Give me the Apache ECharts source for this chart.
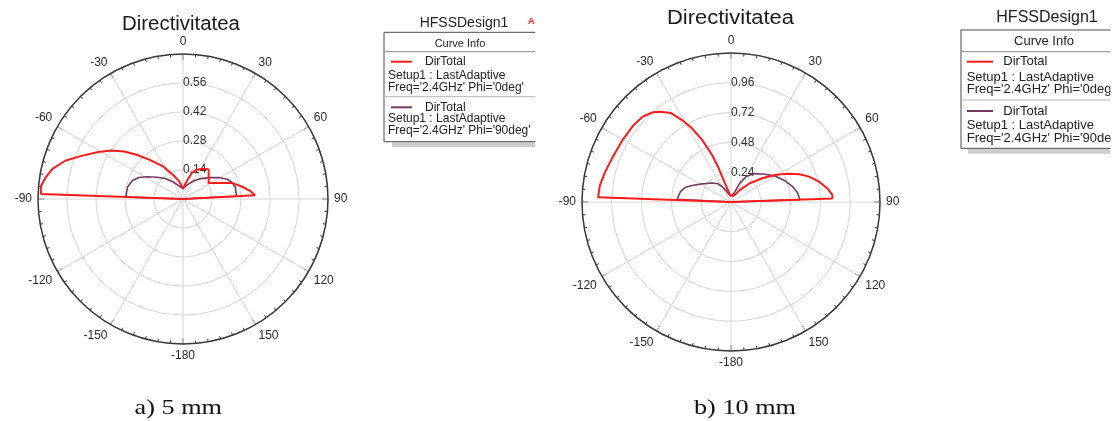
<!DOCTYPE html>
<html><head><meta charset="utf-8">
<script src="https://cdn.jsdelivr.net/npm/echarts@6/dist/echarts.min.js"></script>
<style>html,body{margin:0;padding:0;background:#fff}#c{width:1118px;height:421px}</style>
</head><body><div id="c"></div>
<script>
// ---------- text ----------
const titles = ['Directivitatea', 'Directivitatea'];
const captions = ['a) 5 mm', 'b) 10 mm'];
const designName = 'HFSSDesign1';
const curveInfoHeader = 'Curve Info';
const curveNames = ['DirTotal', 'DirTotal'];
const setupText = 'Setup1 : LastAdaptive';
const freqTexts = ["Freq='2.4GHz' Phi='0deg'", "Freq='2.4GHz' Phi='90deg'"];

// ---------- axes ----------
const radiusMax = [0.7, 1.2];
const radiusStep = [0.14, 0.24];
const angleStep = 30;

// ---------- data: angle (deg, 0 = top, clockwise) / DirTotal ----------
// 5 mm, Phi = 0deg
const phi0_5mm_angles = [-90, -88, -85, -81, -77, -72, -67, -61, -56, -51, -46, -40, -31, -22, -13, -7, 0, 11, 18, 24, 31, 37, 41, 58, 72, 75, 78, 83, 87, 90];
const phi0_5mm_values = [0, 0.686, 0.689, 0.671, 0.647, 0.598, 0.533, 0.468, 0.418, 0.365, 0.306, 0.245, 0.182, 0.124, 0.09, 0.066, 0.05, 0.084, 0.13, 0.153, 0.169, 0.182, 0.189, 0.146, 0.249, 0.268, 0.29, 0.326, 0.348, 0];
// 5 mm, Phi = 90deg
const phi90_5mm_angles = [-90, -88, -78, -70, -64, -58, -50, -41, -30, -14, 0, 14, 29, 39, 51, 59, 66, 71, 77, 87, 90];
const phi90_5mm_values = [0, 0.276, 0.274, 0.26, 0.237, 0.203, 0.163, 0.131, 0.095, 0.063, 0.05, 0.068, 0.098, 0.125, 0.164, 0.202, 0.234, 0.25, 0.259, 0.258, 0];
// 10 mm, Phi = 0deg
const phi0_10mm_angles = [-90, -88, -83, -77, -69, -60, -52, -46, -41, -38, -34, -31, -28, -25, -22, -20, -18, -5, 0, 12, 22, 31, 36, 45, 53, 59, 63, 68, 72, 77, 82, 86, 88, 90];
const phi0_10mm_values = [0, 1.071, 1.065, 1.044, 1.019, 1.006, 1.0, 0.989, 0.958, 0.922, 0.864, 0.772, 0.675, 0.554, 0.411, 0.291, 0.16, 0.05, 0.043, 0.045, 0.055, 0.074, 0.121, 0.214, 0.321, 0.425, 0.499, 0.595, 0.662, 0.728, 0.784, 0.818, 0.816, 0];
// 10 mm, Phi = 90deg
const phi90_10mm_angles = [-90, -87, -78, -72, -67, -58, -45, -35, -30, -22, -10, 0, 10, 21, 25, 31, 38, 49, 59, 68, 76, 82, 88, 90];
const phi90_10mm_values = [0, 0.434, 0.415, 0.385, 0.341, 0.275, 0.216, 0.179, 0.143, 0.092, 0.055, 0.043, 0.055, 0.089, 0.168, 0.24, 0.287, 0.343, 0.409, 0.464, 0.512, 0.541, 0.555, 0];

// ---------- build ----------
const RED = '#ff1a1a', PURPLE = '#733a62';
const SANS = '"Liberation Sans", Arial, sans-serif';
const SERIF = '"Liberation Serif", "Times New Roman", serif';

function toPolar(angles, values) {
  return angles.map((a, i) => [values[i], a < 0 ? a + 360 : a]);
}
function fmtAngle(v) {
  let a = v > 180 ? v - 360 : v;
  if (a === 180) a = -180;
  return String(Math.round(a));
}
const polarLayout = [
  { center: [183, 199], radius: 145 },
  { center: [731, 202], radius: 149 }
];
const angleAxis = [0, 1].map(i => ({
  polarIndex: i, type: 'value', min: 0, max: 360, interval: angleStep,
  startAngle: 90, clockwise: true,
  axisLine: { show: true, lineStyle: { color: '#3a3a3a', width: 1.5 } },
  axisTick: { show: true, inside: true, length: 6, lineStyle: { color: '#3a3a3a', width: 1 } },
  minorTick: { show: true, splitNumber: 6, length: 3, lineStyle: { color: '#3a3a3a', width: 1 } },
  axisLabel: { show: true, margin: 6, color: '#2a2a2a', fontSize: 12, fontFamily: SANS, formatter: fmtAngle },
  splitLine: { show: true, lineStyle: { color: '#d6d6d6', width: 1 } }
}));
const radiusAxis = [0, 1].map(i => ({
  polarIndex: i, type: 'value', min: 0, max: radiusMax[i], interval: radiusStep[i],
  axisLine: { show: false }, axisTick: { show: false },
  axisLabel: {
    show: true, margin: 0, align: 'left', verticalAlign: 'middle',
    color: '#333', fontSize: 12, fontFamily: SANS,
    showMinLabel: false, showMaxLabel: false, padding: [0, 0, 5, 0],
    formatter: v => v.toFixed(2)
  },
  splitLine: { show: true, lineStyle: { color: '#d6d6d6', width: 1 } }
}));

function lineSeries(polarIndex, data, color, width) {
  return {
    type: 'line', coordinateSystem: 'polar', polarIndex, data,
    showSymbol: false, symbol: 'none', smooth: false, animation: false,
    lineStyle: { color, width }, z: 3
  };
}
const series = [
  lineSeries(0, toPolar(phi90_5mm_angles, phi90_5mm_values), PURPLE, 1.6),
  lineSeries(0, toPolar(phi0_5mm_angles, phi0_5mm_values), RED, 2),
  lineSeries(1, toPolar(phi90_10mm_angles, phi90_10mm_values), PURPLE, 1.6),
  lineSeries(1, toPolar(phi0_10mm_angles, phi0_10mm_values), RED, 2)
];

// ---------- graphics (titles, captions, legend boxes) ----------
function txt(x, y, text, size, opts) {
  opts = opts || {};
  return {
    type: 'text', x, y, scaleX: opts.scaleX || 1,
    style: {
      text, fill: opts.fill || '#222', fontSize: size, fontFamily: opts.family || SANS,
      fontWeight: opts.weight || 'normal',
      align: opts.align || 'left', verticalAlign: 'middle'
    }, z: 10
  };
}
function hline(x1, x2, y, color, width) {
  return { type: 'line', shape: { x1, y1: y, x2, y2: y }, style: { stroke: color, lineWidth: width }, z: 10 };
}
function legend(L) {
  const g = [];
  g.push({ type: 'rect', shape: { x: L.sx, y: L.bottom + 0.5, width: L.right - L.sx, height: 5 }, style: { fill: '#cdcdcd' }, z: 8 });
  g.push({ type: 'rect', shape: { x: L.left, y: L.top, width: L.right - L.left, height: L.bottom - L.top }, style: { fill: '#fff' }, z: 9 });
  g.push({ type: 'polyline', shape: { points: [[L.right, L.top], [L.left, L.top], [L.left, L.bottom], [L.right, L.bottom]] }, style: { stroke: '#4a4a4a', lineWidth: 1, fill: null }, z: 10 });
  g.push(txt(L.titleX, L.titleY, designName, L.titleSize, { align: 'center' }));
  g.push(txt(L.headX, L.headY, curveInfoHeader, L.headSize, { align: 'center' }));
  g.push(hline(L.left, L.right, L.sep1, '#8a8a8a', 1));
  g.push(hline(L.left, L.right, L.sep2, '#b5b5b5', 1));
  const colors = [RED, PURPLE];
  for (let k = 0; k < 2; k++) {
    const r = L.rows[k];
    g.push(hline(L.lx1, L.lx2, r[0], colors[k], 2));
    g.push(txt(L.nameX, r[0], curveNames[k], L.size));
    g.push(txt(L.textX, r[1], setupText, L.size));
    g.push(txt(L.textX, r[2], freqTexts[k], L.size));
  }
  // the picture is cropped on the right of each legend box
  g.push({ type: 'rect', shape: { x: L.right + 0.5, y: L.top - 3, width: L.coverW, height: L.bottom - L.top + 6 }, style: { fill: '#fff' }, z: 11 });
  return g;
}
const legends = [
  { left: 384, top: 32.3, right: 535, bottom: 141.7, sx: 392,
    titleX: 464, titleY: 23, titleSize: 14, headX: 460, headY: 44, headSize: 11,
    sep1: 51.7, sep2: 96.7, lx1: 391, lx2: 412, nameX: 425, textX: 388, size: 12,
    rows: [[61.7, 75.5, 87.5], [107.3, 119, 131]], coverW: 18 },
  { left: 961, top: 30, right: 1110, bottom: 148.3, sx: 968,
    titleX: 1047, titleY: 17.5, titleSize: 16, headX: 1044, headY: 41.7, headSize: 13,
    sep1: 51.7, sep2: 100, lx1: 967, lx2: 993, nameX: 1003.3, textX: 966.7, size: 13,
    rows: [[61.7, 77, 89.5], [111, 125.5, 138]], coverW: 10 }
];
let graphics = [];
graphics.push(txt(181, 24, titles[0], 20, { align: 'center', scaleX: 1.02, fill: '#1a1a1a' }));
graphics.push(txt(730.5, 18.5, titles[1], 20, { align: 'center', scaleX: 1.1, fill: '#1a1a1a' }));
graphics.push(txt(178.3, 408.5, captions[0], 21, { align: 'center', scaleX: 1.25, family: SERIF, fill: '#111' }));
graphics.push(txt(745, 408, captions[1], 21, { align: 'center', scaleX: 1.25, family: SERIF, fill: '#111' }));
graphics.push(txt(528, 22, 'A', 9, { fill: RED, weight: 'bold' }));
legends.forEach(L => { graphics = graphics.concat(legend(L)); });

const chart = echarts.init(document.getElementById('c'), null, { renderer: 'canvas' });
chart.setOption({
  backgroundColor: '#fff',
  animation: false,
  polar: polarLayout,
  angleAxis, radiusAxis, series,
  graphic: { elements: graphics }
});
</script></body></html>
